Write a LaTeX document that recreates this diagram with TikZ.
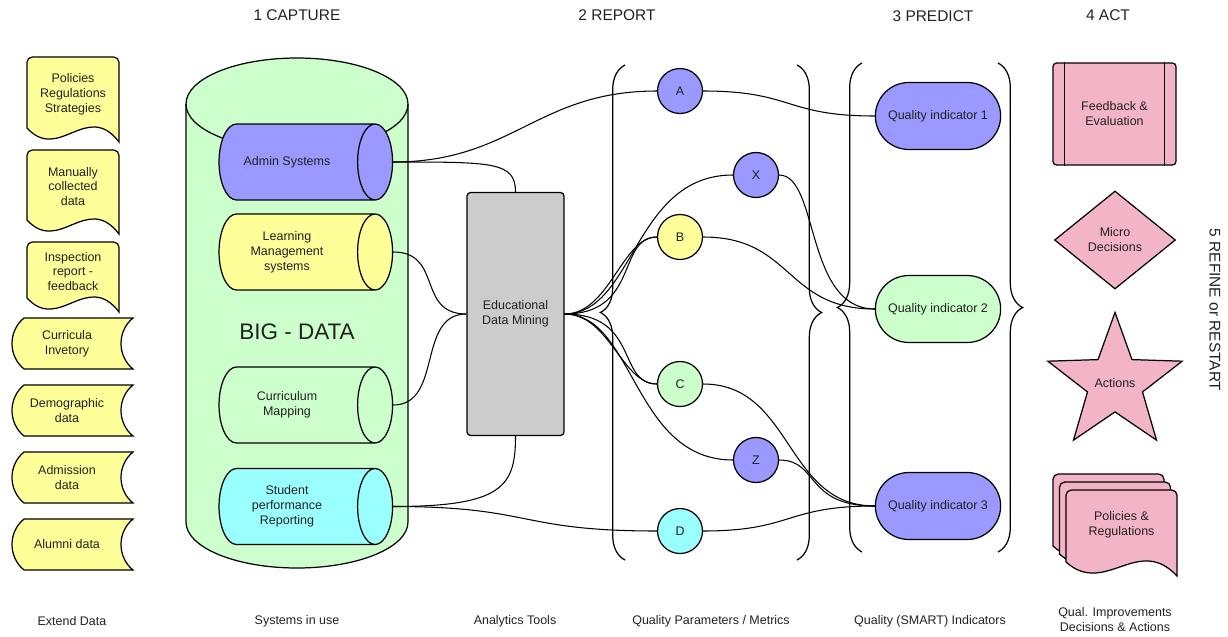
\documentclass[tikz,border=0pt]{standalone}
\usepackage{fontspec}
\setmainfont{Liberation Sans}
\usetikzlibrary{shapes.geometric,shapes.misc,decorations.pathreplacing}
\definecolor{azul}{HTML}{9999FF}
\definecolor{amarillo}{HTML}{FFFF99}
\definecolor{verde}{HTML}{CCFFCC}
\definecolor{celeste}{HTML}{99FFFF}
\definecolor{gris}{HTML}{CCCCCC}
\definecolor{rosa}{HTML}{F4B4C8}
\definecolor{texto}{HTML}{222222}
\newcommand{\cil}[1]{\parbox[c][1.52cm][c]{2.02cm}{\centering #1}\hspace{0.39cm}}
\tikzset{
  txt/.style={font=\fontsize{7.1}{8.5}\selectfont, text=texto, align=center},
  titulo/.style={font=\fontsize{8.8}{10.5}\selectfont, text=texto},
  borde/.style={draw, line width=0.7pt},
  circulo/.style={circle, borde, minimum size=0.9cm, inner sep=0pt, txt},
  indicador/.style={rounded rectangle, borde, minimum width=2.74cm, minimum height=1.34cm, txt},
  cilindro/.style={cylinder, borde, shape aspect=0.46, minimum width=1.52cm, inner sep=0pt, txt},
  linea/.style={line width=0.6pt},
  llave/.style={decorate, decoration={brace, amplitude=14pt}, line width=0.7pt},
}
\begin{document}
\begin{tikzpicture}[x=0.02cm, y=-0.02cm]
  \useasboundingbox (0,0) rectangle (1228,636);
  % titulos
  \node[titulo] (t1) at (297,15) {1 CAPTURE};
  \node[titulo] (t2) at (617,15) {2 REPORT};
  \node[titulo] (t3) at (933,16) {3 PREDICT};
  \node[titulo] (t4) at (1108,15) {4 ACT};
  \node[titulo, rotate=-90] (t5) at (1215,310) {5 REFINE or RESTART};
  % pies
  \node[txt] (p1) at (72,621) {Extend Data};
  \node[txt] (p2) at (297,621) {Systems in use};
  \node[txt] (p3) at (515,621) {Analytics Tools};
  \node[txt] (p4) at (711,621) {Quality Parameters / Metrics};
  \node[txt] (p5) at (930,621) {Quality (SMART) Indicators};
  \node[txt] (p6) at (1115,620) {Qual. Improvements\\Decisions \& Actions};
  % documentos
  \foreach \y/\h/\n/\t in {57/71/pol/{Policies\\Regulations\\Strategies}, 150/70/man/{Manually\\collected\\data}, 242/56/insp/{Inspection\\report -\\feedback}}{
    \draw[borde, fill=amarillo] (27,\y+\h) [rounded corners=3pt] -- (27,\y) -- (119,\y) [sharp corners] -- (119,\y+\h+14)
      .. controls (87,\y+\h-28) and (59,\y+\h+35) .. (27,\y+\h) -- cycle;
    \node[txt] (\n) at (73,\y+\h/2+1.5) {\t};
  }
  % datos almacenados
  \foreach \y/\n/\t in {318/curinv/{Curricula\\Invetory}, 385/demog/{Demographic\\data}, 452/admis/{Admission\\data}, 519/alum/{Alumni data}}{
    \draw[borde, fill=amarillo] (24,\y) -- (133,\y) .. controls (117,\y+13) and (117,\y+38) .. (133,\y+51)
      -- (24,\y+51) .. controls (8,\y+38) and (8,\y+13) .. (24,\y) -- cycle;
    \node[txt] (\n) at (67,\y+25.5) {\t};
  }
  % big data
  \draw[borde, fill=verde] (186,104) -- (186,522) arc[start angle=180, end angle=0, x radius=111, y radius=46]
    -- (408,104) arc[start angle=0, end angle=-180, x radius=111, y radius=46] -- cycle;
  \draw[borde] (186,104) arc[start angle=180, end angle=0, x radius=111, y radius=46];
  \node[font=\fontsize{12.8}{15}\selectfont, text=texto] (bigdata) at (297,332) {BIG - DATA};
  \node[cilindro, fill=azul] (adminsys) at (296.75,162) {\cil{Admin Systems}};
  \node[cilindro, fill=amarillo] (lms) at (296.75,252) {\cil{Learning\\Management\\systems}};
  \node[cilindro, fill=verde] (cmap) at (296.75,405) {\cil{Curriculum\\Mapping}};
  \node[cilindro, fill=celeste] (sperf) at (296.75,506.5) {\cil{Student\\performance\\Reporting}};
  % mineria
  \node[borde, fill=gris, rounded corners=2pt, minimum width=1.94cm, minimum height=4.86cm, txt] (edm) at (515.5,314) {Educational\\Data Mining};
  % llaves
  \draw[llave] (625,560) -- (625,65);
  \draw[llave] (797,65) -- (797,560);
  \draw[llave] (862,552) -- (862,63);
  \draw[llave] (998,63) -- (998,552);
  % metricas
  \node[circulo, fill=azul] (A) at (680,91) {A};
  \node[circulo, fill=azul] (X) at (756,175) {X};
  \node[circulo, fill=amarillo] (B) at (680,237) {B};
  \node[circulo, fill=verde] (C) at (680,384) {C};
  \node[circulo, fill=azul] (Z) at (756,460) {Z};
  \node[circulo, fill=celeste] (D) at (680,531) {D};
  % indicadores
  \node[indicador, fill=azul] (q1) at (938,116) {Quality indicator 1};
  \node[indicador, fill=verde] (q2) at (938,309) {Quality indicator 2};
  \node[indicador, fill=azul] (q3) at (938,506) {Quality indicator 3};
  % acciones
  \node[borde, fill=rosa, rounded corners=2pt, minimum width=2.46cm, minimum height=2.04cm, txt] (fb) at (1114.5,114) {Feedback \&\\Evaluation};
  \draw[borde] ([xshift=0.24cm]fb.north west) -- ([xshift=0.24cm]fb.south west);
  \draw[borde] ([xshift=-0.24cm]fb.north east) -- ([xshift=-0.24cm]fb.south east);
  \node[diamond, borde, fill=rosa, aspect=1.23, inner sep=0pt, minimum width=2.42cm, minimum height=1.96cm, txt] (md) at (1115,240) {Micro\\Decisions};
  \node[star, star points=5, star point ratio=2.44, borde, fill=rosa, minimum size=2.5cm, inner sep=0pt, txt] (act) at (1115,383) {Actions};
  \foreach \o in {0,1,2}
    \draw[borde, fill=rosa] (1053+6.5*\o,546+8*\o) [rounded corners=3pt] -- (1053+6.5*\o,474+8*\o) -- (1164+6.5*\o,474+8*\o) [sharp corners]
      -- (1164+6.5*\o,560+8*\o) .. controls (1125+6.5*\o,518+8*\o) and (1092+6.5*\o,581+8*\o) .. (1053+6.5*\o,546+8*\o) -- cycle;
  \node[txt] (polreg) at (1121.5,525) {Policies \&\\Regulations};
  % conexiones
  \draw[linea] (adminsys.east) .. controls +(100,0) and +(0,-30) .. (edm.north);
  \draw[linea] (adminsys.east) .. controls +(120,0) and +(-120,0) .. (A.west);
  \draw[linea] (lms.east) .. controls +(50,0) and +(-50,0) .. (edm.west);
  \draw[linea] (cmap.east) .. controls +(50,0) and +(-50,0) .. (edm.west);
  \draw[linea] (sperf.east) .. controls +(110,0) and +(0,50) .. (edm.south);
  \draw[linea] (sperf.east) .. controls +(140,0) and +(-140,0) .. (D.west);
  \draw[linea] (edm.east) .. controls +(45,0) and +(-35,0) .. (B.west);
  \draw[linea] (edm.east) .. controls +(75,0) and +(-40,0) .. (B.west);
  \draw[linea] (edm.east) .. controls +(70,0) and +(-100,0) .. (X.west);
  \draw[linea] (edm.east) .. controls +(45,0) and +(-35,0) .. (C.west);
  \draw[linea] (edm.east) .. controls +(75,0) and +(-40,0) .. (C.west);
  \draw[linea] (edm.east) .. controls +(70,0) and +(-100,0) .. (Z.west);
  \draw[linea] (A.east) .. controls +(90,0) and +(-90,0) .. (q1.west);
  \draw[linea] (B.east) .. controls +(90,0) and +(-90,0) .. (q2.west);
  \draw[linea] (X.east) .. controls +(40,0) and +(-70,0) .. (q2.west);
  \draw[linea] (C.east) .. controls +(90,0) and +(-90,0) .. (q3.west);
  \draw[linea] (Z.east) .. controls +(40,0) and +(-70,0) .. (q3.west);
  \draw[linea] (D.east) .. controls +(90,0) and +(-90,0) .. (q3.west);
\end{tikzpicture}
\end{document}
